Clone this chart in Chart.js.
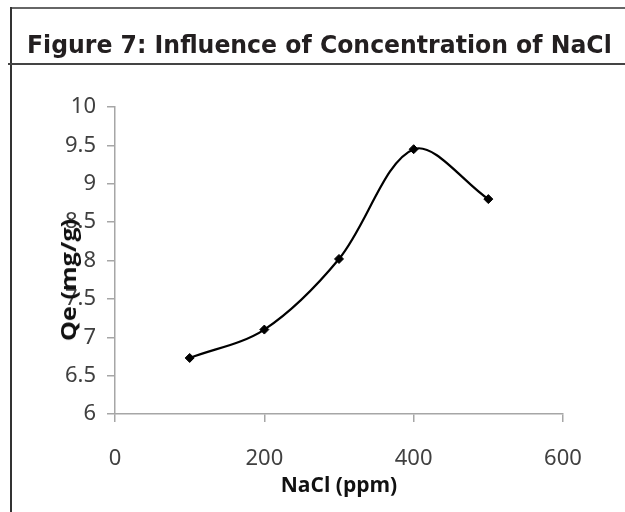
<!DOCTYPE html>
<html>
<head>
<meta charset="utf-8">
<script src="https://cdn.jsdelivr.net/npm/chart.js@4.4.0/dist/chart.umd.min.js"></script>
<style>
body { margin: 0; background: #fff; }
#wrap { position: relative; width: 625px; height: 512px; overflow: hidden; }
#chart { position: absolute; left: 0; top: 0; }
#boxTop { position: absolute; left: 10px; top: 7px; width: 615px; height: 0; border-top: 2px solid #666; }
#boxLeft { position: absolute; left: 10px; top: 7px; width: 0; height: 505px; border-left: 2px solid #333; }
#boxMid { position: absolute; left: 8px; top: 63px; width: 617px; height: 0; border-top: 2px solid #444; }
#title { position: absolute; left: 27px; top: 31px; font: bold 24px "DejaVu Sans"; color: #231f20; white-space: nowrap; transform-origin: 0 0; }
#ytitle { position: absolute; left: 68px; top: 280px; font: bold 21px "Open Sans"; color: #111; white-space: nowrap;
          transform: translate(-50%, -50%) rotate(-90deg) scaleX(1.2); }
</style>
</head>
<body>
<div id="wrap">
  <canvas id="chart" width="625" height="512"></canvas>
  <div id="boxTop"></div>
  <div id="boxLeft"></div>
  <div id="boxMid"></div>
  <div id="title">Figure 7: Influence of Concentration of NaCl</div>
  <div id="ytitle">Qe (mg/g)</div>
</div>
<script>
// data
var nacl = [100, 200, 300, 400, 500];
var qe = [6.73, 7.1, 8.02, 9.45, 8.8];
var xTicks = [0, 200, 400, 600];
var yTicks = [6, 6.5, 7, 7.5, 8, 8.5, 9, 9.5, 10];

var axisGray = '#a6a6a6';

// stretch title to the width it has in the figure
var t = document.getElementById('title');
t.style.transform = 'scaleX(' + (585 / t.offsetWidth) + ')';

var points = nacl.map(function(x, i){ return {x: x, y: qe[i]}; });

var ctx = document.getElementById('chart').getContext('2d');
var chart = new Chart(ctx, {
	type: 'scatter',
	data: {
		datasets: [{
			data: points,
			showLine: true,
			tension: 0.33,
			borderColor: '#000',
			borderWidth: 2.2,
			pointStyle: 'rectRot',
			pointRadius: 4.5,
			pointBackgroundColor: '#000',
			pointBorderColor: '#000',
			pointBorderWidth: 1
		}]
	},
	options: {
		responsive: false,
		animation: false,
		layout: { padding: { left: 0, right: 62, top: 107, bottom: 0 } },
		plugins: { legend: { display: false }, tooltip: { enabled: false } },
		scales: {
			x: {
				type: 'linear',
				min: 0,
				max: 600,
				afterBuildTicks: function(s){ s.ticks = xTicks.map(function(v){ return {value: v}; }); },
				afterFit: function(s){ s.height = 98; },
				grid: { drawOnChartArea: false, drawTicks: true, tickLength: 8, color: axisGray, tickColor: axisGray, lineWidth: 1.5 },
				border: { color: axisGray, width: 1.5 },
				ticks: { padding: 24, color: '#404040', font: { family: 'Noto Sans', size: 22 },
					callback: function(v){ return String(v); } },
				title: { display: true, text: 'NaCl (ppm)', color: '#111', font: { family: 'Open Sans', size: 21, weight: 'bold' }, padding: { top: 0, bottom: 13 } }
			},
			y: {
				type: 'linear',
				min: 6,
				max: 10,
				afterBuildTicks: function(s){ s.ticks = yTicks.map(function(v){ return {value: v}; }); },
				afterFit: function(s){ s.width = 115; },
				grid: { drawOnChartArea: false, drawTicks: true, tickLength: 8, color: axisGray, tickColor: axisGray, lineWidth: 1.5 },
				border: { color: axisGray, width: 1.5 },
				ticks: { padding: 11, color: '#404040', font: { family: 'Noto Sans', size: 22 },
					callback: function(v){ return String(v); } }
			}
		}
	}
});
</script>
</body>
</html>
